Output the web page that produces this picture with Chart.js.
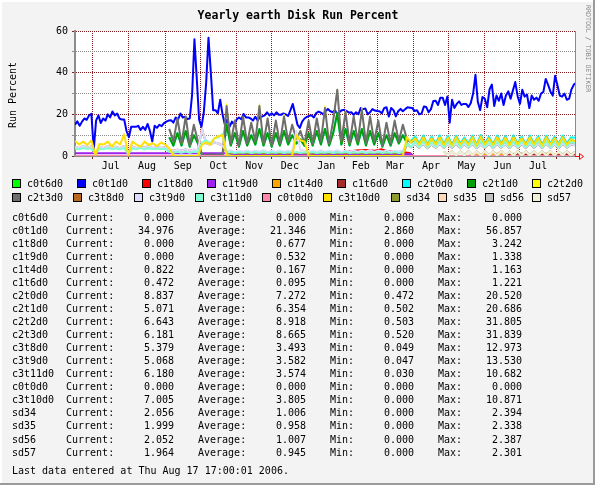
<!DOCTYPE html>
<html>
<head>
<meta charset="utf-8">
<title>Yearly earth Disk Run Percent</title>
<script src="https://cdn.jsdelivr.net/npm/chart.js@4.4.0/dist/chart.umd.min.js"></script>
<style>
  html, body { margin: 0; padding: 0; background: #f3f3f3; }
  canvas { display: block; }
</style>
</head>
<body>
<canvas id="diskChart" width="595" height="485"></canvas>
<script>
// Eixo x em dias desde 16 jun 2005 (dia 0) até 17 ago 2006 (dia 427)
const monthStarts = [15, 46, 77, 107, 138, 168, 199, 230, 258, 289, 319, 350, 380, 411];
const monthMids = [30.5, 61.5, 92, 122.5, 153, 183.5, 214.5, 244, 273.5, 304, 334.5, 365, 395.5];
const monthLabels = ['Jul', 'Aug', 'Sep', 'Oct', 'Nov', 'Dec', 'Jan', 'Feb', 'Mar', 'Apr', 'May', 'Jun', 'Jul'];
const yTicks = [0, 5, 10, 15, 20, 25, 30, 35, 40, 45, 50, 55, 60];

// Grade fina (2 dias) para c0t1d0
const daysFine = [
  0, 2, 4, 6, 8, 10, 12, 14, 16, 18, 20, 22, 24, 26, 28, 30, 32, 34, 36, 38,
  40, 42, 44, 46, 48, 50, 52, 54, 56, 58, 60, 62, 64, 66, 68, 70, 72, 74, 76, 78,
  80, 82, 84, 86, 88, 90, 92, 94, 96, 98, 100, 102, 104, 106, 108, 110, 112, 114, 116, 118,
  120, 122, 124, 126, 128, 130, 132, 134, 136, 138, 140, 142, 144, 146, 148, 150, 152, 154, 156, 158,
  160, 162, 164, 166, 168, 170, 172, 174, 176, 178, 180, 182, 184, 186, 188, 190, 192, 194, 196, 198,
  200, 202, 204, 206, 208, 210, 212, 214, 216, 218, 220, 222, 224, 226, 228, 230, 232, 234, 236, 238,
  240, 242, 244, 246, 248, 250, 252, 254, 256, 258, 260, 262, 264, 266, 268, 270, 272, 274, 276, 278,
  280, 282, 284, 286, 288, 290, 292, 294, 296, 298, 300, 302, 304, 306, 308, 310, 312, 314, 316, 318,
  320, 322, 324, 326, 328, 330, 332, 334, 336, 338, 340, 342, 344, 346, 348, 350, 352, 354, 356, 358,
  360, 362, 364, 366, 368, 370, 372, 374, 376, 378, 380, 382, 384, 386, 388, 390, 392, 394, 396, 398,
  400, 402, 404, 406, 408, 410, 412, 414, 416, 418, 420, 422, 424, 426, 427
];

// Grade de meia semana (3,5 dias) para os discos c2/c3/sd
const days = [
  0, 3.5, 7, 10.5, 14, 17.5, 21, 24.5, 28, 31.5, 35, 38.5, 42, 45.5, 49, 52.5, 56, 59.5, 63, 66.5,
  70, 73.5, 77, 80.5, 84, 87.5, 91, 94.5, 98, 101.5, 105, 108.5, 112, 115.5, 119, 122.5, 126, 129.5, 133, 136.5,
  140, 143.5, 147, 150.5, 154, 157.5, 161, 164.5, 168, 171.5, 175, 178.5, 182, 185.5, 189, 192.5, 196, 199.5, 203, 206.5,
  210, 213.5, 217, 220.5, 224, 227.5, 231, 234.5, 238, 241.5, 245, 248.5, 252, 255.5, 259, 262.5, 266, 269.5, 273, 276.5,
  280, 283.5, 287, 290.5, 294, 297.5, 301, 304.5, 308, 311.5, 315, 318.5, 322, 325.5, 329, 332.5, 336, 339.5, 343, 346.5,
  350, 353.5, 357, 360.5, 364, 367.5, 371, 374.5, 378, 381.5, 385, 388.5, 392, 395.5, 399, 402.5, 406, 409.5, 413, 416.5,
  420, 423.5, 427
];

const flatDays = [0, 427];
const c0t6d0 = [0, 0];
const c0t0d0 = [0, 0];

const c0t1d0 = [
  15, 16.6, 14.5, 16.5, 18, 17.4, 19.5, 20.2, 3, 17,
  19.5, 15.8, 18, 17, 20, 18.5, 21.4, 19.5, 20.4, 18,
  17.5, 17.5, 12, 9, 14, 14, 14, 14.5, 12.5, 14,
  12.5, 15.4, 12, 7, 14.5, 13.5, 15, 14.3, 15.8, 16.5,
  17, 17.2, 16, 18.5, 17.4, 20.4, 18.5, 18.8, 17.8, 18,
  29.4, 56, 37, 17.4, 14, 21, 35, 56.8, 40, 22,
  22, 20.5, 27, 20, 15, 17.5, 14, 16.5, 15, 17.5,
  18.5, 17.6, 20.2, 18.5, 18.5, 18, 17, 18.8, 17, 18.8,
  19, 19.5, 21, 19.5, 20.5, 19.5, 21, 19.8, 19.8, 20.4,
  20, 19.2, 22, 25, 20, 15, 13.5, 16.5, 18, 18.8,
  19.3, 19.5, 18.5, 20.6, 21.3, 20.8, 20, 21.5, 22.6, 21.5,
  21, 22, 20, 21.2, 22, 22.2, 21.5, 20.8, 21, 19.7,
  21, 20, 23, 22.5, 22.8, 20, 21, 22.5, 21.8, 21.6,
  21.5, 20.5, 23, 23.4, 19, 23, 22, 19, 21.5, 22.6,
  21.5, 22.5, 23.4, 23.2, 23, 21.6, 22, 20, 20.4, 23.8,
  23.5, 21, 22.5, 26.4, 26.5, 24.5, 28, 28, 24.5, 28.6,
  16, 27, 23, 25, 26.2, 24.5, 25, 25, 23.5, 25.4,
  30, 39, 26, 22, 28.3, 27.5, 23.4, 32, 34.3, 24,
  29, 26.5, 30, 24.5, 29, 31, 27.5, 31.5, 35.5, 28.7,
  25, 31.8, 28.5, 29.5, 23, 29, 27, 28, 26.5, 30,
  30.8, 37, 34.2, 31, 29, 38.5, 34, 29, 28.5, 30,
  27, 27.5, 32, 34.2, 34.98
];

const c1t8d0Days = [0, 160, 170, 185, 200, 215, 230, 240, 248, 256, 262, 266, 272, 280, 286, 289, 427];
const c1t8d0 = [0, 0, 1.0, 1.3, 1.5, 1.6, 1.8, 2.6, 2.9, 2.5, 3.2, 2.4, 2.0, 1.8, 1.5, 0, 0];
const c1t9d0Days = [0, 130, 136, 286, 289, 427];
const c1t9d0 = [1.3, 1.3, 1.0, 1.0, 0, 0];
const c1t4d0Days = [0, 336, 340, 350, 360, 370, 380, 390, 400, 410, 420, 427];
const c1t4d0 = [0, 0, 0.9, 0.7, 1.1, 0.8, 1.0, 0.7, 1.16, 0.8, 0.9, 0.82];
const c1t6d0Days = [0, 365, 370, 380, 390, 400, 410, 420, 427];
const c1t6d0 = [0, 0, 0.6, 1.2, 0.5, 0.9, 0.4, 1.0, 0.47];

// c2tXd0: a partir de days[23] (inicio de setembro)
const c2t0d0 = [
  9, 5, 11, 5, 12, 4.5, 10, 6,
  0.5, 0.47, 0.5, 0.47, 0.55, 0.5,
  15, 5, 11, 4.5, 12, 5, 10, 5.5, 13, 5, 11, 4.5, 11, 5, 12, 5.5, 10, 6, 8, 5, 11, 5,
  12, 5.5, 13, 5, 11, 20.5, 5.5, 13, 5, 12, 5.5, 13, 5, 12, 5.5, 11, 4.5, 10, 5, 11, 6, 10,
  7, 7.5,
  9.4, 6.0, 9.8, 5.6, 9.3, 6.0, 9.9, 5.8, 9.6, 5.5, 9.8, 6.0, 8.9, 6.0, 9.8, 5.5, 10.1, 6.0, 9.3, 5.8,
  9.8, 6.0, 9.6, 5.5, 9.9, 6.0, 9.3, 5.8, 9.8, 6.0, 9.5, 5.5, 9.8, 6.0, 9.3, 5.8, 9.8, 6.0, 9.0, 8.8
];
const c2t1d0 = [
  9, 5, 11, 5, 12, 4.5, 10, 6,
  0.55, 0.5, 0.55, 0.5, 0.6, 0.5,
  15, 5, 11, 4.5, 12, 5, 10, 5.5, 13, 5, 11, 4.5, 11, 5, 12, 5.5, 10, 6, 8, 5, 11, 5,
  12, 5.5, 13, 5, 11, 20.6, 5.5, 13, 5, 12, 5.5, 13, 5, 12, 5.5, 11, 4.5, 10, 5, 11, 6, 10, 6,
  4.2,
  5.8, 4.0, 6.0, 3.8, 5.6, 4.1, 5.9, 3.9, 5.7, 4.0, 6.0, 3.8, 5.8, 4.1, 5.9, 3.9, 5.6, 4.0, 6.0, 3.8,
  5.8, 4.1, 5.7, 3.9, 6.0, 4.0, 5.8, 3.8, 5.9, 4.1, 5.7, 3.9, 6.0, 4.0, 5.8, 3.8, 5.9, 4.1, 5.6, 5.1
];
const c2t2d0 = [
  13, 7, 18, 6, 19, 5, 15, 7,
  0.6, 0.5, 0.6, 0.5, 0.6, 0.5,
  25.2, 6, 17, 5, 19, 6, 16, 7, 25.2, 6, 18, 5, 17, 6, 20.2, 7, 15, 8, 12, 6,
  17, 6, 18, 7, 24.2, 6, 17, 31.8, 7, 22.2, 6, 19, 7, 23.2, 6, 19, 7, 17, 5, 16,
  6, 17, 7, 15, 8,
  6.5,
  8.5, 5.5, 9, 5, 8.5, 5.5, 9, 5.3, 8.8, 5, 9, 5.5, 8, 5.5, 9, 5, 9.3, 5.5, 8.5, 5.3,
  9, 5.5, 8.8, 5, 9, 5.5, 8.5, 5.3, 9, 5.5, 8.7, 5, 9, 5.5, 8.5, 5.3, 9, 5.5, 8, 6.6
];
const c2t3d0 = [
  13, 7, 18, 6, 19, 5, 15, 7,
  0.6, 0.52, 0.6, 0.55, 0.6, 0.52,
  24, 6, 17, 5, 19, 6, 16, 7, 24, 6, 18, 5, 17, 6, 19, 7, 15, 8, 12, 6,
  17, 6, 18, 7, 23, 6, 17, 31.8, 7, 21, 6, 19, 7, 22, 6, 19, 7, 17, 5, 16,
  6, 17, 7, 15, 8,
  6.5,
  8.5, 5.5, 9, 5, 8.5, 5.5, 9, 5.3, 8.8, 5, 9, 5.5, 8, 5.5, 9, 5, 9.3, 5.5, 8.5, 5.3,
  9, 5.5, 8.8, 5, 9, 5.5, 8.5, 5.3, 9, 5.5, 8.7, 5, 9, 5.5, 8.5, 5.3, 9, 5.5, 8, 7
];

// c3tXd0: ano inteiro na grade days
const c3t8d0 = [
  4.5, 3.8, 4.8, 4.0, 4.6, 1.0, 4.5, 3.8, 4.8, 4.0, 4.5, 3.8, 4.8, 1.0, 4.6, 3.8, 4.5, 4.0, 4.8, 3.8, 4.5, 3.9, 4.2,
  3.0, 2.5, 3.0, 2.6, 3.2, 2.5, 3.0, 2.8,
  12.97, 6.0, 5.5, 6.5, 6.0, 5.0,
  1.6, 1.2, 1.6, 1.2, 1.6, 1.2, 1.6, 1.2, 1.6, 1.2, 1.6, 1.2, 1.6, 1.2, 1.6, 1.2, 1.6, 1.2, 1.6, 1.2, 1.6, 1.2,
  1.6, 1.2, 1.6, 1.2, 1.6, 1.2, 1.6, 1.2, 1.6, 1.2, 1.6, 1.2, 1.6, 1.2, 1.6, 1.2, 1.6, 1.2, 1.6, 1.2, 1.6, 1.2,
  5.5, 4.2,
  5.8, 4.0, 6.0, 3.8, 5.6, 4.1, 5.9, 3.9, 5.7, 4.0, 6.0, 3.8, 5.8, 4.1, 5.9, 3.9, 5.6, 4.0, 6.0, 3.8,
  5.8, 4.1, 5.7, 3.9, 6.0, 4.0, 5.8, 3.8, 5.9, 4.1, 5.7, 3.9, 6.0, 4.0, 5.8, 3.8, 5.9, 4.1, 5.6, 5.4
];
const c3t9d0 = [
  4.5, 3.8, 4.8, 4.0, 4.6, 1.0, 4.5, 3.8, 4.8, 4.0, 4.5, 3.8, 4.8, 1.0, 4.6, 3.8, 4.5, 4.0, 4.8, 3.8, 4.5, 3.9, 4.2,
  3.0, 2.5, 3.0, 2.6, 3.2, 2.5, 3.0, 2.8,
  13.0, 6.0, 5.5, 6.5, 6.0, 5.0,
  2.2, 2.8, 2.0, 2.6, 2.1, 2.7, 2.0, 2.5, 2.2, 2.8, 2.0, 2.6, 2.1, 2.7, 2.0, 2.5,
  2.2, 12.0, 3.0, 2.6, 2.0,
  2.6, 2.1, 2.8, 2.0, 2.5, 2.2, 2.8, 2.0, 2.6, 2.1, 2.7, 2.0, 2.5, 2.2, 2.8, 2.0, 2.6, 2.1, 2.7, 2.0, 2.5, 2.3, 2.6,
  5.5, 4.2,
  5.8, 4.0, 6.0, 3.8, 5.6, 4.1, 5.9, 3.9, 5.7, 4.0, 6.0, 3.8, 5.8, 4.1, 5.9, 3.9, 5.6, 4.0, 6.0, 3.8,
  5.8, 4.1, 5.7, 3.9, 6.0, 4.0, 5.8, 3.8, 5.9, 4.1, 5.7, 3.9, 6.0, 4.0, 5.8, 3.8, 5.9, 4.1, 5.6, 5.1
];
const c3t11d0 = [
  3.6, 3.2, 3.8, 3.3, 3.7, 1.0, 3.5, 3.2, 3.8, 3.3, 3.6, 3.2, 3.9, 1.0, 3.6, 3.3, 3.8, 3.2, 3.7, 3.3, 3.6, 3.2, 3.5,
  2.0, 1.5, 2.0, 1.6, 2.1, 1.5, 2.0, 1.8,
  6.5, 7.5, 6.0, 8.5, 9.0, 10.5,
  1.5, 1.9, 1.4, 1.8, 1.5, 1.9, 1.4, 1.8, 1.5, 1.9, 1.4, 1.8, 1.5, 1.9, 1.4, 1.8, 1.5, 1.9, 1.4, 1.8, 1.5, 1.9,
  1.4, 1.8, 1.5, 1.9, 1.4, 1.8, 1.5, 1.9, 1.4, 1.8, 1.5, 1.9, 1.4, 1.8, 1.5, 1.9, 1.4, 1.8, 1.5, 1.9, 1.4, 1.8,
  6.0, 4.5,
  7.0, 4.5, 7.2, 4.3, 6.8, 4.6, 7.1, 4.4, 6.9, 4.5, 7.2, 4.3, 7.0, 4.6, 6.8, 4.4, 7.1, 4.5, 6.9, 4.3,
  7.2, 4.6, 7.0, 4.4, 6.8, 4.5, 7.1, 4.3, 6.9, 4.6, 7.2, 4.4, 7.0, 4.5, 6.8, 4.3, 7.1, 4.6, 6.9, 6.2
];
const c3t10d0 = [
  7.2, 5.5, 6.9, 5.3, 7.5, 0.5, 5.8, 5.5, 6.9, 4.5, 6.9, 5.5, 10.4, 0.5, 6.9, 5.5, 4.5, 6.9, 5.3, 6.1, 4.8, 6.5, 5.5,
  3.7, 0.3, 0, 0, 0, 0, 0, 0,
  5.5, 6.5, 5.5, 8.5, 9.5, 10,
  0.3, 0, 0, 0, 0, 0, 0, 0, 0, 0, 0, 0, 0, 0, 0, 0,
  0, 10, 7.5, 7, 0.3,
  0, 0, 0, 0, 0, 0, 0, 0, 0, 0, 0, 0, 0, 0, 0, 0, 0, 0, 0, 0, 0, 0, 0,
  9, 6.5,
  8.5, 5.5, 9, 5, 8.5, 5.5, 9, 5.3, 8.8, 5, 9, 5.5, 8, 5.5, 9, 5, 9.3, 5.5, 8.5, 5.3,
  9, 5.5, 8.8, 5, 9, 5.5, 8.5, 5.3, 9, 5.5, 8.7, 5, 9, 5.5, 8.5, 5.3, 9, 5.5, 8, 7
];

// sdXX: a partir de days[90] (fim de abril)
const sd34 = [2.2, 0.4, 2.3, 0.3, 2.1, 0.5, 2.35, 0.3, 2.2, 0.4, 2.3, 0.3, 2.2, 0.5, 2.39, 0.3, 2.1, 0.4, 2.3, 0.3, 2.2, 0.5, 2.3, 0.3, 2.2, 0.4, 2.35, 0.3, 2.1, 0.5, 2.3, 0.4, 2.06];
const sd35 = [2.1, 0.3, 2.2, 0.4, 2.0, 0.3, 2.3, 0.4, 2.1, 0.3, 2.2, 0.4, 2.1, 0.3, 2.34, 0.4, 2.0, 0.3, 2.2, 0.4, 2.1, 0.3, 2.2, 0.4, 2.1, 0.3, 2.3, 0.4, 2.0, 0.3, 2.2, 0.3, 2.0];
const sd56 = [2.2, 0.4, 2.3, 0.3, 2.1, 0.5, 2.3, 0.3, 2.2, 0.4, 2.3, 0.3, 2.2, 0.5, 2.38, 0.3, 2.1, 0.4, 2.3, 0.3, 2.2, 0.5, 2.3, 0.3, 2.2, 0.4, 2.3, 0.3, 2.1, 0.5, 2.3, 0.4, 2.05];
const sd57 = [2.1, 0.3, 2.2, 0.4, 2.0, 0.3, 2.25, 0.4, 2.1, 0.3, 2.2, 0.4, 2.1, 0.3, 2.3, 0.4, 2.0, 0.3, 2.2, 0.4, 2.1, 0.3, 2.2, 0.4, 2.1, 0.3, 2.25, 0.4, 2.0, 0.3, 2.2, 0.3, 1.96];

// Tabela de estatisticas (texto abaixo do grafico)
const seriesNames = ['c0t6d0', 'c0t1d0', 'c1t8d0', 'c1t9d0', 'c1t4d0', 'c1t6d0', 'c2t0d0', 'c2t1d0', 'c2t2d0', 'c2t3d0',
  'c3t8d0', 'c3t9d0', 'c3t11d0', 'c0t0d0', 'c3t10d0', 'sd34', 'sd35', 'sd56', 'sd57'];
const seriesColors = ['#00ff00', '#0000ff', '#ff0000', '#a020f0', '#ffa500', '#a52a2a', '#00ffff', '#00a000', '#ffff00', '#6e6e6e',
  '#b8681e', '#dcdcff', '#7fffd4', '#ff88aa', '#ffe000', '#8e9a2e', '#ffdab9', '#c0c0c0', '#f0f0d8'];
const statCurrent = [0, 34.976, 0, 0, 0.822, 0.472, 8.837, 5.071, 6.643, 6.181, 5.379, 5.068, 6.180, 0, 7.005, 2.056, 1.999, 2.052, 1.964];
const statAverage = [0, 21.346, 0.677, 0.532, 0.167, 0.095, 7.272, 6.354, 8.918, 8.665, 3.493, 3.582, 3.574, 0, 3.805, 1.006, 0.958, 1.007, 0.945];
const statMin = [0, 2.860, 0, 0, 0, 0, 0.472, 0.502, 0.503, 0.520, 0.049, 0.047, 0.030, 0, 0, 0, 0, 0, 0];
const statMax = [0, 56.857, 3.242, 1.338, 1.163, 1.221, 20.520, 20.686, 31.805, 31.839, 12.973, 13.530, 10.682, 0, 10.871, 2.394, 2.338, 2.387, 2.301];

const MONO = '"DejaVu Sans Mono", "Liberation Mono", monospace';
const GRID = '#8c8c8c';
const MGRID = '#821e1e';
const AXIS = '#8c8c8c';

function pts(xs, ys) {
  return ys.map((y, i) => ({ x: xs[i], y: y }));
}

const seriesData = [
  pts(flatDays, c0t6d0),
  pts(daysFine, c0t1d0),
  pts(c1t8d0Days, c1t8d0),
  pts(c1t9d0Days, c1t9d0),
  pts(c1t4d0Days, c1t4d0),
  pts(c1t6d0Days, c1t6d0),
  pts(days.slice(23), c2t0d0),
  pts(days.slice(23), c2t1d0),
  pts(days.slice(23), c2t2d0),
  pts(days.slice(23), c2t3d0),
  pts(days, c3t8d0),
  pts(days, c3t9d0),
  pts(days, c3t11d0),
  pts(flatDays, c0t0d0),
  pts(days, c3t10d0),
  pts(days.slice(90), sd34),
  pts(days.slice(90), sd35),
  pts(days.slice(90), sd56),
  pts(days.slice(90), sd57)
];

// Primeira serie desenhada por baixo, como no rrdtool
const datasets = seriesNames.map((name, i) => ({
  label: name,
  data: seriesData[i],
  borderColor: seriesColors[i],
  backgroundColor: seriesColors[i],
  borderWidth: name === 'c2t2d0' ? 1 : 2,
  borderJoinStyle: 'round',
  pointRadius: 0,
  tension: 0,
  fill: false,
  order: seriesNames.length - i
}));

// Fundo, moldura, titulo, legenda e tabela
const rrdDecor = {
  id: 'rrdDecor',
  beforeDraw(chart) {
    const ctx = chart.ctx;
    const a = chart.chartArea;
    ctx.save();
    ctx.fillStyle = '#f3f3f3';
    ctx.fillRect(0, 0, chart.width, chart.height);
    ctx.fillStyle = '#ffffff';
    ctx.fillRect(a.left, a.top, a.right - a.left, a.bottom - a.top);
    ctx.restore();
  },
  afterDraw(chart) {
    const ctx = chart.ctx;
    const a = chart.chartArea;
    ctx.save();

    // borda direita da area do grafico
    ctx.strokeStyle = AXIS;
    ctx.lineWidth = 1;
    ctx.beginPath();
    ctx.moveTo(a.right + 0.5, a.top);
    ctx.lineTo(a.right + 0.5, a.bottom);
    ctx.stroke();

    // seta do eixo x
    ctx.strokeStyle = '#ff0000';
    ctx.beginPath();
    ctx.moveTo(a.right, a.bottom + 0.5);
    ctx.lineTo(a.right + 4, a.bottom + 0.5);
    ctx.moveTo(a.right + 4.5, a.bottom - 2.5);
    ctx.lineTo(a.right + 4.5, a.bottom + 3.5);
    ctx.lineTo(a.right + 8.5, a.bottom + 0.5);
    ctx.closePath();
    ctx.stroke();

    // moldura 3d
    ctx.fillStyle = '#ffffff';
    ctx.fillRect(0, 0, chart.width, 2);
    ctx.fillRect(0, 0, 2, chart.height);
    ctx.fillStyle = '#9a9a9a';
    ctx.fillRect(chart.width - 2, 0, 2, chart.height);
    ctx.fillRect(0, chart.height - 2, chart.width, 2);

    // titulo
    ctx.fillStyle = '#000';
    ctx.font = 'bold 11.5px ' + MONO;
    ctx.textAlign = 'center';
    ctx.textBaseline = 'alphabetic';
    ctx.fillText('Yearly earth Disk Run Percent', 298, 19);

    // rotulo do eixo y
    ctx.save();
    ctx.translate(13, 95);
    ctx.rotate(-Math.PI / 2);
    ctx.font = '10px ' + MONO;
    ctx.textBaseline = 'middle';
    ctx.fillText('Run Percent', 0, 0);
    ctx.restore();

    // credito vertical
    ctx.save();
    ctx.translate(587.5, 5);
    ctx.rotate(Math.PI / 2);
    ctx.font = '6.6px ' + MONO;
    ctx.fillStyle = '#888888';
    ctx.textAlign = 'left';
    ctx.textBaseline = 'middle';
    ctx.fillText('RRDTOOL / TOBI OETIKER', 0, 0);
    ctx.restore();

    // legenda em duas linhas
    const legendRows = [[0, 1, 2, 3, 4, 5, 6, 7, 8], [9, 10, 11, 12, 13, 14, 15, 16, 17, 18]];
    const legendX = [[12, 77, 142, 207, 272, 337, 402, 467, 532], [12, 73, 134, 195, 262, 323, 391, 438, 485, 532]];
    const legendY = [179, 193];
    ctx.font = '10px ' + MONO;
    ctx.textAlign = 'left';
    ctx.textBaseline = 'alphabetic';
    legendRows.forEach((row, r) => {
      row.forEach((idx, j) => {
        const x = legendX[r][j];
        const y = legendY[r];
        ctx.fillStyle = seriesColors[idx];
        ctx.fillRect(x, y, 9, 9);
        ctx.strokeStyle = '#000';
        ctx.lineWidth = 1;
        ctx.strokeRect(x + 0.5, y + 0.5, 8, 8);
        ctx.fillStyle = '#000';
        ctx.fillText(seriesNames[idx], x + 15, y + 8);
      });
    });

    // tabela Current / Average / Min / Max
    seriesNames.forEach((name, i) => {
      const y = Math.round(221 + i * 13.03);
      ctx.textAlign = 'left';
      ctx.fillText(name, 12, y);
      ctx.fillText('Current:', 66, y);
      ctx.fillText('Average:', 198, y);
      ctx.fillText('Min:', 330, y);
      ctx.fillText('Max:', 438, y);
      ctx.textAlign = 'right';
      ctx.fillText(statCurrent[i].toFixed(3), 174, y);
      ctx.fillText(statAverage[i].toFixed(3), 306, y);
      ctx.fillText(statMin[i].toFixed(3), 414, y);
      ctx.fillText(statMax[i].toFixed(3), 522, y);
    });

    ctx.textAlign = 'left';
    ctx.fillText('Last data entered at Thu Aug 17 17:00:01 2006.', 12, 474);
    ctx.restore();
  }
};

const ctx = document.getElementById('diskChart').getContext('2d');
window.diskChart = new Chart(ctx, {
  type: 'line',
  data: { datasets: datasets },
  options: {
    responsive: false,
    animation: false,
    devicePixelRatio: 1,
    events: [],
    layout: { padding: { top: 31, right: 20, bottom: 309, left: 0 } },
    plugins: {
      legend: { display: false },
      tooltip: { enabled: false }
    },
    scales: {
      x: {
        type: 'linear',
        position: 'bottom',
        weight: 0,
        min: 0,
        max: 427,
        afterBuildTicks: (s) => { s.ticks = monthStarts.map(v => ({ value: v })); },
        afterFit: (s) => { s.height = 0; },
        ticks: { display: false },
        grid: { color: MGRID, lineWidth: 1, tickLength: 3 },
        border: { display: true, color: AXIS, width: 2, dash: [1, 1] }
      },
      x2: {
        type: 'linear',
        position: 'bottom',
        weight: 1,
        min: 0,
        max: 427,
        afterBuildTicks: (s) => { s.ticks = monthMids.map(v => ({ value: v })); },
        afterFit: (s) => { s.height = 20; },
        ticks: {
          callback: (v, i) => monthLabels[i],
          autoSkip: false,
          maxRotation: 0,
          minRotation: 0,
          padding: 4,
          color: '#000',
          font: { family: MONO, size: 10 }
        },
        grid: { display: false, drawTicks: false },
        border: { display: false }
      },
      y: {
        type: 'linear',
        min: 0,
        max: 60,
        afterBuildTicks: (s) => { s.ticks = yTicks.map(v => ({ value: v })); },
        afterFit: (s) => { s.width = 75; },
        ticks: {
          callback: (v) => (v % 20 === 0 ? String(v) : ''),
          padding: 4,
          color: '#000',
          font: { family: MONO, size: 10 }
        },
        grid: {
          color: (c) => (c.tick && c.tick.value % 20 === 0 ? MGRID : GRID),
          lineWidth: 1,
          tickLength: 3
        },
        border: { display: true, color: AXIS, width: 2, dash: [1, 1] }
      }
    }
  },
  plugins: [rrdDecor]
});
</script>
</body>
</html>
